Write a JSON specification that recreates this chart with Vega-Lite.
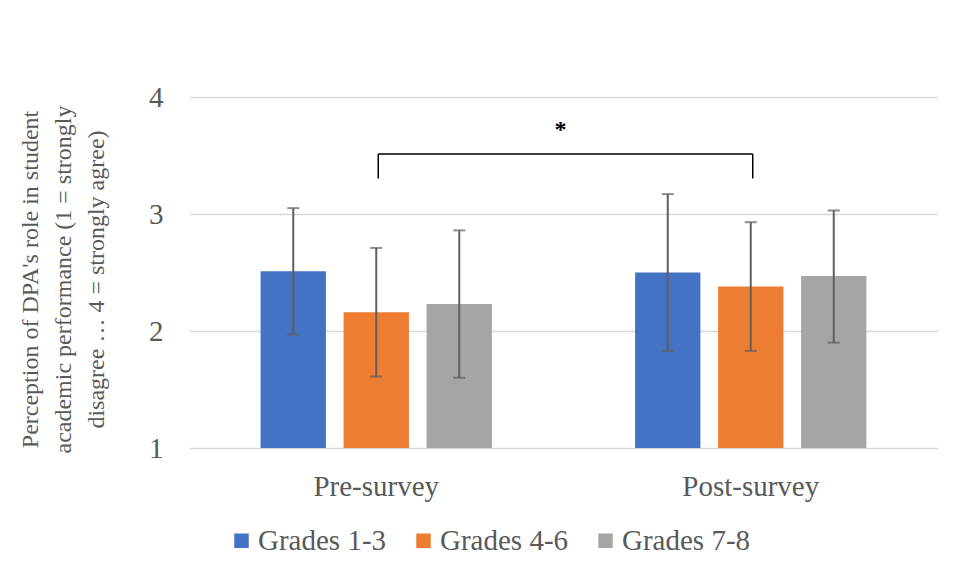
{
  "$schema": "https://vega.github.io/schema/vega-lite/v6.json",
  "width": 749,
  "height": 351,
  "autosize": {"type": "none"},
  "padding": {"left": 189, "top": 97, "right": 18, "bottom": 129},
  "background": "#ffffff",
  "config": {
    "view": {"stroke": null},
    "font": "Times New Roman, Liberation Serif, serif",
    "axis": {
      "labelFont": "Times New Roman, Liberation Serif, serif",
      "titleFont": "Times New Roman, Liberation Serif, serif",
      "labelColor": "#595959",
      "titleColor": "#595959",
      "domain": false,
      "ticks": false
    },
    "legend": {
      "labelFont": "Times New Roman, Liberation Serif, serif",
      "labelColor": "#595959"
    }
  },
  "datasets": {
    "scores": [
      {"time": "Pre-survey", "grade": "Grades 1-3", "mean": 2.51, "lo": 1.97, "hi": 3.05},
      {"time": "Pre-survey", "grade": "Grades 4-6", "mean": 2.16, "lo": 1.61, "hi": 2.71},
      {"time": "Pre-survey", "grade": "Grades 7-8", "mean": 2.23, "lo": 1.6, "hi": 2.86},
      {"time": "Post-survey", "grade": "Grades 1-3", "mean": 2.5, "lo": 1.83, "hi": 3.17},
      {"time": "Post-survey", "grade": "Grades 4-6", "mean": 2.38, "lo": 1.83, "hi": 2.93},
      {"time": "Post-survey", "grade": "Grades 7-8", "mean": 2.47, "lo": 1.9, "hi": 3.03}
    ],
    "bracket": [
      {"time": "Pre-survey", "to": "Post-survey", "top": 3.513}
    ],
    "legs": [
      {"time": "Pre-survey", "top": 3.513, "foot": 3.304},
      {"time": "Post-survey", "top": 3.513, "foot": 3.304}
    ],
    "sig": [
      {"time": "Pre-survey", "y": 3.72, "label": "*"}
    ]
  },
  "layer": [
    {
      "data": {"name": "scores"},
      "mark": {"type": "bar"},
      "encoding": {
        "x": {
          "field": "time", "type": "nominal",
          "scale": {"domain": ["Pre-survey", "Post-survey"], "paddingInner": 0.3351, "paddingOuter": 0.16755},
          "axis": {"title": null, "labelAngle": 0, "labelFontSize": 29, "labelPadding": 24}
        },
        "xOffset": {
          "field": "grade", "type": "nominal",
          "scale": {"domain": ["Grades 1-3", "Grades 4-6", "Grades 7-8"], "paddingInner": 0.213, "paddingOuter": 0.1065}
        },
        "y": {
          "field": "mean", "type": "quantitative",
          "scale": {"domain": [1, 4], "nice": false, "zero": false},
          "axis": {
            "values": [1, 2, 3, 4],
            "format": "d",
            "labelFontSize": 29,
            "labelPadding": 26,
            "gridColor": "#d9d9d9",
            "gridWidth": 1.5,
            "title": ["Perception of DPA's role in student", "academic performance (1 = strongly", "disagree … 4 = strongly agree)"],
            "titleFontSize": 24,
            "titleFontWeight": "normal",
            "titleLineHeight": 33,
            "titleAngle": -90,
            "titleAlign": "center",
            "titleBaseline": "top",
            "titleX": -171,
            "titleY": 182
          }
        },
        "y2": {"datum": 1},
        "color": {
          "field": "grade", "type": "nominal",
          "scale": {"domain": ["Grades 1-3", "Grades 4-6", "Grades 7-8"], "range": ["#4472c4", "#ed7d31", "#a5a5a5"]},
          "legend": {
            "title": null,
            "orient": "none",
            "direction": "horizontal",
            "legendX": 38,
            "legendY": 429,
            "symbolType": "square",
            "symbolSize": 210,
            "symbolStrokeWidth": 0,
            "labelFontSize": 29,
            "labelOffset": 2,
            "columnPadding": 22
          }
        }
      }
    },
    {
      "data": {"name": "scores"},
      "mark": {"type": "rule", "color": "#5f5f5f", "strokeWidth": 2},
      "encoding": {
        "x": {"field": "time", "type": "nominal"},
        "xOffset": {"field": "grade", "type": "nominal"},
        "y": {"field": "lo", "type": "quantitative"},
        "y2": {"field": "hi"}
      }
    },
    {
      "data": {"name": "scores"},
      "mark": {"type": "tick", "color": "#5f5f5f", "size": 12, "thickness": 2, "orient": "horizontal"},
      "encoding": {
        "x": {"field": "time", "type": "nominal"},
        "xOffset": {"field": "grade", "type": "nominal"},
        "y": {"field": "lo", "type": "quantitative"}
      }
    },
    {
      "data": {"name": "scores"},
      "mark": {"type": "tick", "color": "#5f5f5f", "size": 12, "thickness": 2, "orient": "horizontal"},
      "encoding": {
        "x": {"field": "time", "type": "nominal"},
        "xOffset": {"field": "grade", "type": "nominal"},
        "y": {"field": "hi", "type": "quantitative"}
      }
    },
    {
      "data": {"name": "bracket"},
      "mark": {"type": "rule", "color": "#000000", "strokeWidth": 1.5},
      "encoding": {
        "x": {"field": "time", "type": "nominal", "bandPosition": 0.508},
        "x2": {"field": "to", "bandPosition": 0.508},
        "y": {"field": "top", "type": "quantitative"}
      }
    },
    {
      "data": {"name": "legs"},
      "mark": {"type": "rule", "color": "#000000", "strokeWidth": 1.5},
      "encoding": {
        "x": {"field": "time", "type": "nominal", "bandPosition": 0.508},
        "y": {"field": "foot", "type": "quantitative"},
        "y2": {"field": "top"}
      }
    },
    {
      "data": {"name": "sig"},
      "mark": {"type": "text", "font": "Times New Roman, Liberation Serif, serif", "fontSize": 24, "fontWeight": "bold", "color": "#000000", "baseline": "middle", "align": "center"},
      "encoding": {
        "x": {"field": "time", "type": "nominal", "bandPosition": 1.24},
        "y": {"field": "y", "type": "quantitative"},
        "text": {"field": "label"}
      }
    }
  ]
}
